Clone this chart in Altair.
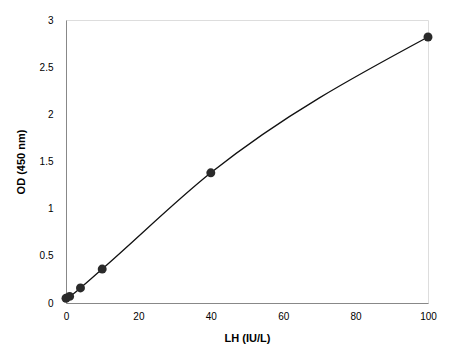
import altair as alt
import pandas as pd

lh = [0, 1, 4, 10, 40, 100]
od = [0.05, 0.07, 0.16, 0.36, 1.38, 2.82]

df = pd.DataFrame({"LH": lh, "OD": od})

x = alt.X("LH:Q", scale=alt.Scale(domain=[0, 100], nice=False),
          axis=alt.Axis(title="LH (IU/L)", values=[0, 20, 40, 60, 80, 100], grid=False,
                        ticks=False, labelPadding=8, titlePadding=11, labelFlush=False))
y = alt.Y("OD:Q", scale=alt.Scale(domain=[0, 3], nice=False),
          axis=alt.Axis(title="OD (450 nm)", values=[0, 0.5, 1, 1.5, 2, 2.5, 3], grid=False,
                        ticks=False, labelPadding=13, titlePadding=13, format="~g",
                        labelFlush=False))

line = alt.Chart(df).mark_line(color="#111", strokeWidth=1.3, interpolate="monotone").encode(x=x, y=y)
pts = alt.Chart(df).mark_point(filled=True, color="#2a2a2a", size=80, opacity=1).encode(x=x, y=y)

chart = (line + pts).properties(
    width=362, height=283,
    autosize=alt.AutoSizeParams(type="none"),
    padding={"left": 66, "top": 20, "right": 22, "bottom": 52},
).configure_view(stroke=None).configure_axis(
    domainColor="#222", domainWidth=1.5,
    labelFont="Liberation Sans", labelFontSize=12, labelColor="#222",
    titleFont="Liberation Sans", titleFontSize=12, titleFontWeight="bold", titleColor="#222",
).configure(background="white")

chart.save("out.html", embed_options={"renderer": "svg", "actions": False})
